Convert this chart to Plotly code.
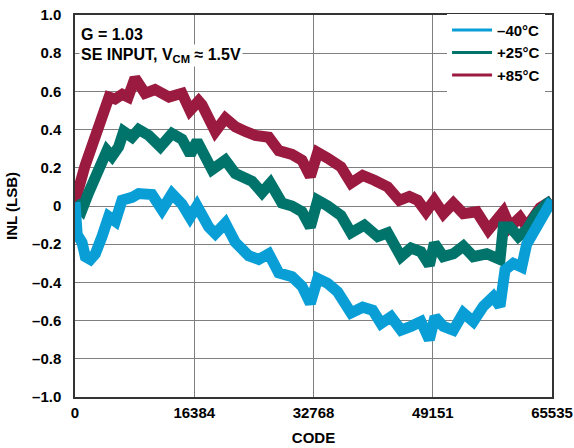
import plotly.graph_objects as go

# ---- data ----
code_85 = [0, 275, 1374, 2748, 4122, 4671, 5500, 6500, 7300, 8243, 9617, 10991, 12915, 14701,
           15800, 16990, 17448, 19276, 20651, 22025, 23399, 24773, 26613, 27987, 29814, 31188,
           32333, 32600, 33340, 34715, 36546, 37920, 39523, 41125, 42957, 44560, 45934, 47079,
           48224, 49369, 50605, 51979, 53354, 55186, 56789, 58849, 59765, 61139, 62055, 63886, 65535]
inl_85 = [0.00, 0.06, 0.21, 0.36, 0.50, 0.57, 0.56, 0.585, 0.57, 0.67, 0.59, 0.61, 0.57, 0.59,
          0.50, 0.55, 0.53, 0.39, 0.46, 0.415, 0.39, 0.37, 0.36, 0.29, 0.27, 0.24,
          0.155, 0.20, 0.28, 0.25, 0.205, 0.12, 0.16, 0.135, 0.10, 0.03, 0.05, 0.03,
          -0.03, 0.03, -0.04, 0.015, -0.04, -0.03, -0.125, -0.03, -0.11, -0.06, -0.11, -0.01, 0.03]

code_25 = [0, 275, 962, 1878, 3252, 4397, 5083, 6000, 6686, 7831, 8747, 10121, 11724, 13327,
           14701, 15846, 16762, 18822, 20651, 22025, 24318, 25692, 26837, 28440, 29814, 31188,
           32333, 33340, 34715, 36546, 37920, 39752, 41583, 42957, 44789, 46163, 47537, 48682,
           49369, 50605, 51979, 53354, 54728, 56560, 58391, 58849, 59765, 60910, 62055, 63429,
           64803, 65535]
inl_25 = [0.02, 0.00, -0.02, 0.07, 0.19, 0.29, 0.26, 0.31, 0.39, 0.36, 0.40, 0.37, 0.31, 0.38,
          0.35, 0.27, 0.34, 0.19, 0.24, 0.17, 0.13, 0.07, 0.12, 0.015, 0.00, -0.03,
          -0.11, 0.03, 0.00, -0.05, -0.14, -0.10, -0.16, -0.14, -0.265, -0.22, -0.24, -0.31,
          -0.195, -0.265, -0.25, -0.21, -0.265, -0.25, -0.28, -0.11, -0.11, -0.16, -0.125, -0.04,
          0.01, 0.03]

code_m40 = [0, 300, 962, 1420, 2107, 2794, 3710, 4625, 5542, 6457, 7831, 8747, 10579, 11953,
            13327, 14701, 15800, 16762, 18364, 19276, 20651, 22025, 23857, 25231, 26613, 27987,
            29814, 31188, 32333, 33340, 34715, 36088, 37920, 39523, 40896, 42041, 43415, 44789,
            46163, 47537, 48682, 49460, 50605, 51979, 53354, 54728, 56102, 57476, 58391, 59078,
            60223, 61368, 62055, 63429, 65032, 65535]
inl_m40 = [0.02, -0.15, -0.19, -0.265, -0.28, -0.25, -0.16, -0.055, -0.08, 0.03, 0.045, 0.065, 0.06, -0.02,
           0.065, 0.01, -0.06, 0.00, -0.11, -0.145, -0.09, -0.19, -0.26, -0.28, -0.25, -0.35,
           -0.37, -0.42, -0.51, -0.38, -0.405, -0.45, -0.56, -0.53, -0.545, -0.615, -0.58, -0.65,
           -0.63, -0.605, -0.70, -0.58, -0.63, -0.65, -0.56, -0.605, -0.525, -0.475, -0.525, -0.335,
           -0.30, -0.32, -0.20, -0.11, 0.00, 0.03]

series_names = ["\u201340\u00b0C", "+25\u00b0C", "+85\u00b0C"]
series_colors = ["#0a9ed6", "#00746b", "#9b1b40"]

x_tickvals = [0, 16384, 32768, 49151, 65535]
x_ticktext = ["0", "16384", "32768", "49151", "65535"]
y_tickvals = [1.0, 0.8, 0.6, 0.4, 0.2, 0, -0.2, -0.4, -0.6, -0.8, -1.0]
y_ticktext = ["1.0", "0.8", "0.6", "0.4", "0.2", "0", "\u20130.2", "\u20130.4", "\u20130.6", "\u20130.8", "\u20131.0"]

FONT = "Liberation Sans, Arial, sans-serif"

fig = go.Figure()
data = [(code_m40, inl_m40), (code_25, inl_25), (code_85, inl_85)]
# draw order: +85, +25, -40 on top
for idx in [2, 1, 0]:
    xs, ys = data[idx]
    fig.add_trace(go.Scatter(x=xs, y=ys, mode="lines", showlegend=False,
                             line=dict(color=series_colors[idx], width=11)))
# legend entries
for idx in [0, 1, 2]:
    fig.add_trace(go.Scatter(x=[None], y=[None], mode="lines", name=series_names[idx],
                             line=dict(color=series_colors[idx], width=3)))

fig.update_layout(
    width=574, height=448,
    margin=dict(l=75, r=22, t=15, b=51, autoexpand=False),
    paper_bgcolor="white", plot_bgcolor="white",
    font=dict(family=FONT, size=15, color="black", weight="bold"),
    showlegend=True,
    legend=dict(x=0.78, y=1.003, xanchor="left", yanchor="top",
                bgcolor="white", borderwidth=0, itemwidth=40,
                font=dict(family=FONT, size=15, color="black", weight="bold"),
                traceorder="normal", tracegroupgap=0),
    xaxis=dict(range=[0, 65535], tickvals=x_tickvals, ticktext=x_ticktext,
               showgrid=True, gridcolor="#7f7f7f", gridwidth=1,
               showline=True, linecolor="#333333", linewidth=1.5, mirror=True,
               zeroline=False, ticks="", ticklabelstandoff=1, automargin=False,
               tickfont=dict(family=FONT, size=15, weight="bold"),
               title=dict(text="CODE", font=dict(family=FONT, size=15, weight="bold"), standoff=13)),
    yaxis=dict(range=[-1.0, 1.0], tickvals=y_tickvals, ticktext=y_ticktext,
               showgrid=True, gridcolor="#7f7f7f", gridwidth=1,
               showline=True, linecolor="#333333", linewidth=1.5, mirror=True,
               zeroline=False, ticks="", ticklabelstandoff=9, automargin=False,
               tickfont=dict(family=FONT, size=15, weight="bold"),
               title=dict(text="INL (LSB)", font=dict(family=FONT, size=15, weight="bold"), standoff=11)),
    annotations=[
        dict(text="G = 1.03", xref="paper", yref="paper", x=0.008, y=0.95,
             xanchor="left", yanchor="middle", showarrow=False,
             font=dict(family=FONT, size=16, weight="bold")),
        dict(text="SE INPUT, V<sub>CM</sub> \u2248 1.5V", xref="paper", yref="paper", x=0.008, y=0.895,
             xanchor="left", yanchor="middle", showarrow=False, bgcolor="white",
             font=dict(family=FONT, size=16, weight="bold")),
    ],
)

fig.write_html("out.html")
